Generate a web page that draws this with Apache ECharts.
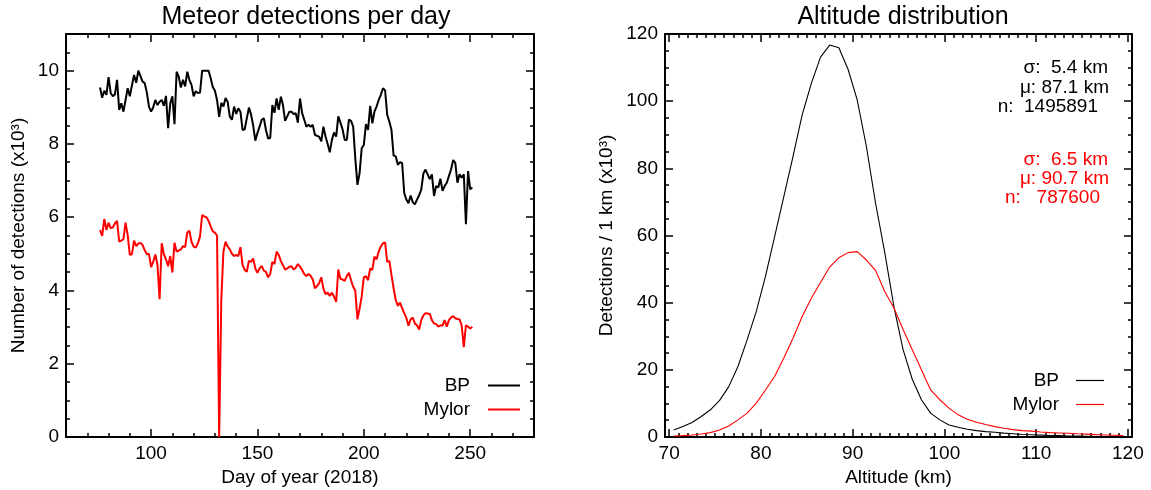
<!DOCTYPE html>
<html>
<head>
<meta charset="utf-8">
<script src="https://cdn.jsdelivr.net/npm/echarts@6/dist/echarts.min.js"></script>
<style>
  html, body { margin: 0; padding: 0; background: #fff; }
  #chart { width: 1151px; height: 490px; }
</style>
</head>
<body>
<div id="chart"></div>
<script>
// daily detections (x10^3), day of year 76..251
const firstDay = 76;
const bpDaily = [
  9.54, 9.26, 9.45, 9.34, 9.82, 9.39, 9.30, 9.35, 9.75, 8.93,
  9.11, 8.88, 9.20, 9.52, 9.30, 9.60, 9.88, 9.67, 10.0, 9.85,
  9.70, 9.66, 9.40, 9.02, 8.88, 9.00, 9.20, 9.06, 9.15, 9.20,
  9.04, 9.31, 8.43, 9.10, 9.30, 8.54, 9.97, 9.83, 9.54, 9.75,
  9.57, 9.97, 9.75, 9.61, 9.30, 9.44, 9.39, 9.40, 10.0, 10.0,
  10.0, 10.0, 9.80, 9.55, 9.45, 9.20, 8.74, 9.12, 9.02, 9.25,
  9.15, 8.75, 8.66, 9.02, 8.82, 8.97, 8.88, 8.38, 8.40, 8.70,
  8.99, 8.80, 8.50, 8.09, 8.30, 8.47, 8.66, 8.70, 8.38, 8.15,
  8.16, 9.06, 8.85, 9.24, 8.93, 9.29, 9.06, 8.63, 8.75, 8.88,
  8.88, 8.81, 8.84, 8.58, 9.24, 8.84, 8.66, 8.47, 8.52, 8.47,
  8.52, 8.25, 8.22, 8.20, 8.07, 8.47, 8.20, 8.00, 7.77, 8.11,
  8.31, 8.20, 8.75, 8.58, 8.40, 8.11, 8.11, 8.66, 8.63, 8.47,
  7.60, 6.88, 7.20, 7.88, 7.97, 8.54, 8.38, 9.04, 8.56, 8.88,
  9.02, 9.20, 9.34, 9.52, 9.46, 8.79, 8.61, 8.38, 7.68, 7.66,
  7.43, 7.50, 7.48, 6.66, 6.48, 6.38, 6.59, 6.41, 6.35, 6.48,
  6.60, 6.75, 7.19, 7.30, 7.17, 7.04, 7.17, 6.58, 6.85, 6.81,
  7.05, 6.72, 6.85, 6.94, 7.12, 7.30, 7.56, 7.48, 6.94, 7.17,
  7.08, 7.17, 5.81, 7.26, 6.76, 6.81
];
const mylorDaily = [
  5.65, 5.49, 5.95, 5.65, 5.85, 5.70, 5.72, 5.83, 5.90, 5.33,
  5.36, 5.40, 5.85, 5.51, 4.97, 4.99, 5.36, 5.21, 5.28, 5.30,
  5.24, 5.10, 4.99, 5.00, 4.64, 4.78, 4.98, 4.70, 3.76, 5.29,
  4.99, 4.85, 4.66, 4.94, 4.49, 5.30, 5.06, 5.09, 5.12, 5.21,
  5.18, 5.58, 5.63, 5.33, 5.20, 5.17, 5.29, 5.47, 6.06, 6.02,
  6.00, 5.90, 5.75, 5.61, 5.58, 5.50, 0.00, 3.74, 5.06, 5.33,
  5.20, 5.12, 5.00, 4.94, 4.97, 4.94, 5.18, 4.70, 4.56, 4.51,
  4.81, 4.78, 4.87, 4.60, 4.48, 4.60, 4.67, 4.54, 4.51, 4.36,
  4.45, 4.78, 4.72, 5.06, 4.97, 4.80, 4.69, 4.57, 4.60, 4.65,
  4.66, 4.57, 4.62, 4.72, 4.65, 4.56, 4.45, 4.39, 4.45, 4.40,
  4.30, 4.06, 4.12, 4.20, 4.36, 4.05, 3.90, 3.94, 3.85, 3.94,
  3.83, 3.69, 4.57, 4.32, 4.30, 4.26, 4.39, 4.48, 4.28, 4.10,
  3.99, 3.21, 3.50, 3.83, 4.36, 4.39, 4.28, 4.60, 4.56, 4.92,
  4.85, 5.06, 5.20, 5.29, 5.31, 4.78, 4.81, 4.42, 4.06, 3.74,
  3.58, 3.67, 3.52, 3.38, 3.25, 3.04, 3.21, 3.26, 3.10, 3.05,
  2.93, 3.19, 3.32, 3.38, 3.37, 3.36, 3.19, 3.10, 3.08, 3.01,
  3.05, 3.04, 3.19, 3.01, 3.19, 3.26, 3.30, 3.24, 3.22, 3.21,
  3.05, 2.45, 3.05, 3.01, 2.96, 3.01
];

// altitude histograms, 1 km bins (x10^3)
const altitudes = [
  70.5, 71.5, 72.5, 73.5, 74.5, 75.5, 76.5, 77.5, 78.5, 79.5,
  80.5, 81.5, 82.5, 83.5, 84.5, 85.5, 86.5, 87.5, 88.5, 89.5,
  90.5, 91.5, 92.5, 93.5, 94.5, 95.5, 96.5, 97.5, 98.5, 99.5,
  100.5, 101.5, 102.5, 103.5, 104.5, 105.5, 106.5, 107.5, 108.5, 109.5,
  110.5, 111.5, 112.5, 113.5, 114.5, 115.5, 116.5, 117.5, 118.5, 119.5
];
const bpAlt = [
  2.1, 3.1, 4.3, 6.1, 8.1, 10.9, 15.0, 21.0, 28.9, 37.4,
  47.8, 59.7, 71.6, 83.5, 95.9, 105.3, 113.1, 116.7, 115.9, 109.5,
  100.4, 86.5, 69.6, 55.0, 38.8, 26.0, 17.2, 11.1, 7.1, 5.1,
  3.6, 2.9, 2.3, 1.9, 1.6, 1.4, 1.15, 0.95, 0.75, 0.65,
  0.55, 0.45, 0.4, 0.3, 0.25, 0.2, 0.15, 0.12, 0.1, 0.08
];
const mylorAlt = [
  0.3, 0.4, 0.6, 0.9, 1.3, 2.1, 3.3, 5.1, 7.1, 10.1,
  14.0, 18.0, 23.5, 29.4, 35.9, 41.3, 46.0, 50.6, 53.4, 54.9,
  55.2, 52.7, 49.6, 43.3, 38.4, 32.0, 26.0, 20.0, 14.0, 11.1,
  8.6, 6.6, 5.3, 4.4, 3.7, 3.1, 2.6, 2.2, 1.9, 1.75,
  1.5, 1.3, 1.2, 1.1, 0.95, 0.85, 0.7, 0.6, 0.5, 0.4
];

const bpStats = ['σ:  5.4 km', 'μ: 87.1 km', 'n:  1495891'];
const mylorStats = ['σ:  6.5 km', 'μ: 90.7 km', 'n:   787600'];

function range(a, b, step) {
  const out = [];
  for (let v = a; v <= b + 1e-9; v += step) out.push(+v.toFixed(3));
  return out;
}
const dayTicks = [100, 150, 200, 250];
const dayMinor = range(60, 280, 10);
const countTicks = [0, 2, 4, 6, 8, 10];
const countMinor = range(0, 11, 0.5);
const altTicks = [70, 80, 90, 100, 110, 120];
const altMinor = range(70, 120, 1);
const altCountTicks = [0, 20, 40, 60, 80, 100, 120];
const altCountMinor = range(0, 120, 5);

const FONT = '"Liberation Sans", Arial, Helvetica, sans-serif';
const BLACK = '#000000';
const RED = '#ff0000';

// one axis for the frame line + major ticks, one overlaid for minor ticks
function axisPair(grid, position, min, max, major, minor, extra) {
  const base = { type: 'value', gridIndex: grid, position, min, max, splitLine: { show: false } };
  return [
    Object.assign({}, base, {
      axisLine: { show: true, onZero: false, lineStyle: { color: BLACK, width: 2 } },
      axisTick: { show: true, inside: true, length: 8, customValues: major, lineStyle: { color: BLACK, width: 1.5 } },
      axisLabel: { show: false }
    }, extra || {}),
    Object.assign({}, base, {
      axisLine: { show: false, onZero: false },
      axisTick: { show: true, inside: true, length: 4, customValues: minor, lineStyle: { color: BLACK, width: 1.5 } },
      axisLabel: { show: false }
    })
  ];
}
function labels(values) {
  return { show: true, customValues: values, margin: 7, color: BLACK, fontSize: 19, fontFamily: FONT };
}
const nameStyle = { color: BLACK, fontSize: 19, fontFamily: FONT };

const xAxes = [].concat(
  axisPair(0, 'bottom', 60, 280, dayTicks, dayMinor, {
    axisLabel: labels(dayTicks), name: 'Day of year (2018)', nameLocation: 'middle', nameGap: 31, nameTextStyle: nameStyle
  }),
  axisPair(0, 'top', 60, 280, dayTicks, dayMinor),
  axisPair(1, 'bottom', 69.55, 120.45, altTicks, altMinor, {
    axisLabel: labels(altTicks), name: 'Altitude (km)', nameLocation: 'middle', nameGap: 31, nameTextStyle: nameStyle
  }),
  axisPair(1, 'top', 69.55, 120.45, altTicks, altMinor)
);
const yAxes = [].concat(
  axisPair(0, 'left', 0, 11, countTicks, countMinor, {
    axisLabel: labels(countTicks), name: 'Number of detections (x10³)', nameLocation: 'middle', nameGap: 38, nameTextStyle: nameStyle
  }),
  axisPair(0, 'right', 0, 11, countTicks, countMinor),
  axisPair(1, 'left', 0, 120, altCountTicks, altCountMinor, {
    axisLabel: labels(altCountTicks), name: 'Detections / 1 km (x10³)', nameLocation: 'middle', nameGap: 49, nameTextStyle: nameStyle
  }),
  axisPair(1, 'right', 0, 120, altCountTicks, altCountMinor)
);

function lineSeries(name, color, width, xi, data) {
  return {
    name, type: 'line', xAxisIndex: xi, yAxisIndex: xi, data,
    color, showSymbol: false, symbol: 'none', silent: true, clip: true,
    lineStyle: { color, width }
  };
}

function statText(lines, color, ys, rights) {
  return lines.map((t, i) => ({
    type: 'text', x: rights[i], y: ys[i], silent: true,
    style: { text: t, fill: color, fontSize: 19, fontFamily: FONT, align: 'right', verticalAlign: 'middle' }
  }));
}

function legendAt(right, top, itemWidth, itemHeight, gap) {
  return {
    data: ['BP', 'Mylor'], orient: 'vertical', align: 'right', right, top,
    icon: 'rect', itemWidth, itemHeight, itemGap: 5, selectedMode: false,
    itemStyle: { borderWidth: 0 },
    textStyle: { color: BLACK, fontSize: 19, fontFamily: FONT, padding: [0, gap, 0, 0] }
  };
}

const chart = echarts.init(document.getElementById('chart'), null, { renderer: 'canvas' });
chart.setOption({
  animation: false,
  backgroundColor: '#ffffff',
  title: [
    { text: 'Meteor detections per day', left: 301, top: 0, textAlign: 'center',
      textStyle: { fontSize: 25, fontWeight: 'normal', color: BLACK, fontFamily: FONT } },
    { text: 'Altitude distribution', left: 898, top: 0, textAlign: 'center',
      textStyle: { fontSize: 25, fontWeight: 'normal', color: BLACK, fontFamily: FONT } }
  ],
  grid: [
    { left: 66, top: 34, width: 468, height: 403, outerBoundsMode: 'none' },
    { left: 665, top: 34, width: 467, height: 403, outerBoundsMode: 'none' }
  ],
  xAxis: xAxes,
  yAxis: yAxes,
  legend: [
    legendAt(626, 371, 32, 2, 13),
    legendAt(42, 366, 28, 1.2, 12)
  ],
  series: [
    lineSeries('BP', BLACK, 2, 0, bpDaily.map((v, i) => [firstDay + i, v])),
    lineSeries('Mylor', RED, 2, 0, mylorDaily.map((v, i) => [firstDay + i, v])),
    lineSeries('BP', BLACK, 1.1, 4, altitudes.map((a, i) => [a, bpAlt[i]])),
    lineSeries('Mylor', RED, 1.1, 4, altitudes.map((a, i) => [a, mylorAlt[i]]))
  ],
  graphic: [].concat(
    statText(bpStats, BLACK, [68, 88, 107], [1108, 1109, 1098]),
    statText(mylorStats, RED, [160, 179, 198], [1108, 1109, 1100])
  )
});
</script>
</body>
</html>
